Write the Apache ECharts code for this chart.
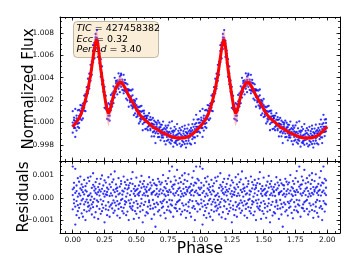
<!DOCTYPE html>
<html><head><meta charset="utf-8">
<script src="https://cdn.jsdelivr.net/npm/echarts@6/dist/echarts.min.js"></script>
<style>html,body{margin:0;padding:0;background:#fff}#c{width:357px;height:275px}</style>
</head><body><div id="c"></div>
<script>
// Model flux on a phase grid of 0.00 .. 0.99 (step 0.01), one cycle
const modelFlux = [
0.9996,0.99975,0.9999,1.00005,1.0002,1.0004,1.0006,1.0009,1.0012,1.0016,
1.0020,1.0025,1.0030,1.0036,1.0042,1.0050,1.0058,1.0066,1.0072,1.0074,
1.0068,1.0058,1.0048,1.0040,1.0032,1.0024,1.0017,1.0011,1.0008,1.0010,
1.0014,1.0019,1.0024,1.0028,1.0031,1.0033,1.0035,1.0036,1.0036,1.0035,
1.0033,1.0031,1.0029,1.0026,1.0024,1.0022,1.0020,1.0018,1.0016,1.0014,
1.0012,1.0010,1.0008,1.0007,1.0005,1.0004,1.0003,1.0002,1.0001,1.0000,
0.9999,0.9998,0.9997,0.9996,0.9995,0.99945,0.9994,0.9993,0.99925,0.9992,
0.9991,0.99905,0.9990,0.99895,0.9989,0.99885,0.9988,0.99875,0.9987,0.99868,
0.99865,0.99862,0.9986,0.9986,0.9986,0.9986,0.9986,0.9986,0.99862,0.99865,
0.9987,0.99875,0.9988,0.99888,0.99895,0.99905,0.99915,0.99928,0.9994,0.9995
];
// spread of the posterior model samples (units of 1e-4), above / below the model
const bandUp = [
1.5,1.5,1.5,1.5,1.5,1.5,1.5,1.5,1.5,1.5,
1.5,1.5,2,2,2.5,3,4,6,8,8,
6,4,3,2.5,2,2,3,3,3,3,
3,3,3,3,4,5,5,5,5,4,
4,3,3,2,2,1.5,1.5,1.5,1.5,1.5,
1.5,1.5,1.5,1.5,1.5,1.5,1.5,1.5,1.5,1.5,
1.5,1.5,1.5,1.5,1.5,1.5,1.5,1.5,1.5,1.5,
1.5,1.5,1.5,1.5,1.5,1.5,1.5,1.5,1.5,1.5,
1.5,1.5,1.5,1.5,1.5,1.5,1.5,1.5,1.5,1.5,
1.5,1.5,1.5,1.5,1.5,1.5,1.5,1.5,1.5,1.5
];
const bandDn = [
1.5,1.5,1.5,1.5,1.5,1.5,1.5,1.5,1.5,1.5,
1.5,1.5,2,2,2,2,3,3,4,4,
3,3,2,2,3,4,6,9,11,9,
6,4,3,3,3,3,4,4,4,3,
3,2,2,2,1.5,1.5,1.5,1.5,1.5,1.5,
1.5,1.5,1.5,1.5,1.5,1.5,1.5,1.5,1.5,1.5,
1.5,1.5,1.5,1.5,1.5,1.5,1.5,1.5,1.5,1.5,
1.5,1.5,1.5,1.5,1.5,1.5,1.5,1.5,1.5,1.5,
1.5,1.5,1.5,1.5,1.5,1.5,1.5,1.5,1.5,1.5,
1.5,1.5,1.5,1.5,1.5,1.5,1.5,1.5,1.5,1.5
];
// residuals (units of 1e-5), four observations at each grid phase
const residuals = [
[38,-52,140,12],[-25,67,-8,45],[130,-120,22,-40],[55,-15,-78,30],[-60,88,5,-33],
[18,-45,72,-90],[42,10,-28,95],[-70,35,-12,60],[25,-85,48,-5],[80,-30,15,-55],
[-18,52,-100,33],[65,-8,28,-62],[-40,90,-22,8],[12,-58,75,-35],[95,20,-48,-10],
[-30,44,5,-75],[58,-20,110,-42],[-88,32,-5,50],[22,-65,40,70],[-12,85,-38,15],
[48,-95,25,-18],[10,62,-50,35],[-72,28,85,-8],[40,-30,-60,100],[-15,55,18,-45],
[78,-110,30,5],[-35,15,68,-52],[26,-78,45,12],[-55,92,-20,38],[8,-40,60,-85],
[105,20,-32,48],[-48,70,10,-25],[35,-12,-68,82],[-22,118,25,-58],[60,-35,5,40],
[-80,45,30,-15],[15,-50,88,-30],[50,-25,-90,20],[-10,75,-42,62],[32,-60,14,-5],
[-45,28,95,-70],[70,-15,-30,42],[5,58,-78,-20],[-62,38,20,80],[44,-100,55,-12],
[-25,12,66,-40],[85,-48,-8,30],[-38,62,115,-55],[18,-22,40,-95],[52,30,-60,8],
[-15,-72,35,90],[40,15,-45,-28],[-90,55,22,10],[28,-38,72,-62],[-5,98,-25,45],
[62,-55,12,-110],[-32,20,50,75],[10,-80,38,-18],[48,25,-65,30],[-70,60,8,-40],
[35,-20,92,-12],[-50,42,-35,68],[22,-95,15,55],[80,-10,-48,25],[-28,65,30,-75],
[12,-42,58,-130],[55,18,-22,40],[-62,85,5,-30],[30,-55,72,15],[-18,38,-80,60],
[68,-25,20,-45],[-40,102,-15,32],[15,-68,48,-8],[42,8,-92,75],[-55,30,62,-20],
[25,-40,12,88],[-10,120,-58,35],[72,-30,25,-65],[-35,50,140,-12],[18,-85,40,58],
[60,10,-45,95],[-48,78,22,-30],[30,-20,125,-60],[-15,65,40,12],[88,-50,-10,45],
[5,30,-75,70],[-62,100,18,-25],[40,-35,62,8],[22,80,-55,110],[-30,15,48,-90],
[75,-60,28,35],[-20,45,105,-40],[50,-10,-68,22],[-85,62,30,12],[35,-45,90,-15],
[10,120,-38,55],[-50,25,68,-100],[65,-15,32,140],[-25,85,-62,20],[45,-30,12,78]
];
const xTicks = [0, 0.25, 0.5, 0.75, 1.0, 1.25, 1.5, 1.75, 2.0];
const fluxTicks = [0.998, 1.000, 1.002, 1.004, 1.006, 1.008];
const residTicks = [-0.001, 0.000, 0.001];
const cycles = [0, 1];
const infoLines = [['TIC', '427458382'], ['Ecc', '0.32'], ['Period', '3.40']];

const X_MIN = -0.1, X_MAX = 2.1;
const F_MIN = 0.99655, F_MAX = 1.00942;
const R_MIN = -0.00158, R_MAX = 0.00165;

// build series data
const fluxPts = [], residPts = [], modelLine = [], bandPts = [];
cycles.forEach(c => {
  modelFlux.forEach((m, i) => {
    const ph = +(c + i / 100).toFixed(2);
    residuals[i].forEach(r => {
      fluxPts.push([ph, m + r * 1e-5]);
      residPts.push([ph, r * 1e-5]);
    });
    modelLine.push([ph, m]);
    bandPts.push([ph, m - bandDn[i] * 1e-4, m + bandUp[i] * 1e-4]);
  });
});
modelLine.push([2.0, modelFlux[0]]);
bandPts.push([2.0, modelFlux[0] - bandDn[0] * 1e-4, modelFlux[0] + bandUp[0] * 1e-4]);

function minorVals(lo, hi, step) {
  const out = [];
  const k0 = Math.ceil(lo / step - 1e-9), k1 = Math.floor(hi / step + 1e-9);
  for (let k = k0; k <= k1; k++) out.push(+(k * step).toFixed(6));
  return out;
}
const xMinor = minorVals(X_MIN, X_MAX, 0.0625);
const fMinor = minorVals(F_MIN, F_MAX, 0.0005);
const rMinor = minorVals(R_MIN, R_MAX, 0.0002);

const FONT = 'DejaVu Sans';
const lineOn = { show: true, onZero: false, lineStyle: { color: '#000', width: 1 } };
const lineOff = { show: false, onZero: false };
function xAx(grid, pos, ticks, len, showLine, labels) {
  return {
    type: 'value', gridIndex: grid, position: pos, min: X_MIN, max: X_MAX,
    axisLine: showLine ? lineOn : lineOff,
    axisTick: { show: true, inside: true, length: len, customValues: ticks, lineStyle: { color: '#000', width: 0.8 } },
    axisLabel: labels ? { show: true, customValues: ticks, formatter: v => v.toFixed(2), fontSize: 7.5, fontFamily: FONT, color: '#111', margin: 3 } : { show: false },
    splitLine: { show: false }
  };
}
function yAx(grid, pos, min, max, ticks, len, showLine, fmt) {
  return {
    type: 'value', gridIndex: grid, position: pos, min: min, max: max,
    axisLine: showLine ? lineOn : lineOff,
    axisTick: { show: true, inside: true, length: len, customValues: ticks, lineStyle: { color: '#000', width: 0.8 } },
    axisLabel: fmt ? { show: true, customValues: ticks, formatter: fmt, fontSize: 7.5, fontFamily: FONT, color: '#111', margin: 6 } : { show: false },
    splitLine: { show: false }
  };
}
const xAxes = [
  xAx(0, 'bottom', xTicks, 3.5, true, false),
  xAx(0, 'top', xTicks, 3.5, true, false),
  xAx(0, 'bottom', xMinor, 2, false, false),
  xAx(0, 'top', xMinor, 2, false, false),
  xAx(1, 'bottom', xTicks, 3.5, true, true),
  xAx(1, 'top', xTicks, 3.5, true, false),
  xAx(1, 'bottom', xMinor, 2, false, false),
  xAx(1, 'top', xMinor, 2, false, false)
];
Object.assign(xAxes[4], { name: 'Phase', nameLocation: 'middle', nameGap: 8, nameMoveOverlap: false,
  nameTextStyle: { fontSize: 15.5, fontFamily: FONT, color: '#000' } });

const fFmt = v => v.toFixed(3);
const rFmt = v => (v < -1e-9 ? '\u2212' + Math.abs(v).toFixed(3) : Math.abs(v).toFixed(3));
const yAxes = [
  yAx(0, 'left', F_MIN, F_MAX, fluxTicks, 3.5, true, fFmt),
  yAx(0, 'right', F_MIN, F_MAX, fluxTicks, 3.5, true, null),
  yAx(0, 'left', F_MIN, F_MAX, fMinor, 2, false, null),
  yAx(0, 'right', F_MIN, F_MAX, fMinor, 2, false, null),
  yAx(1, 'left', R_MIN, R_MAX, residTicks, 3.5, true, rFmt),
  yAx(1, 'right', R_MIN, R_MAX, residTicks, 3.5, true, null),
  yAx(1, 'left', R_MIN, R_MAX, rMinor, 2, false, null),
  yAx(1, 'right', R_MIN, R_MAX, rMinor, 2, false, null)
];
Object.assign(yAxes[0], { name: 'Normalized Flux', nameLocation: 'middle', nameGap: 23, nameMoveOverlap: false,
  nameTextStyle: { fontSize: 15, fontFamily: FONT, color: '#000' } });
Object.assign(yAxes[4], { name: 'Residuals', nameLocation: 'middle', nameGap: 28, nameMoveOverlap: false,
  nameTextStyle: { fontSize: 15, fontFamily: FONT, color: '#000' } });

const chart = echarts.init(document.getElementById('c'), null, { renderer: 'canvas' });
chart.setOption({
  animation: false,
  backgroundColor: '#fff',
  grid: [
    { left: 60, top: 17, width: 280, height: 144 },
    { left: 60, top: 161, width: 280, height: 72 }
  ],
  xAxis: xAxes,
  yAxis: yAxes,
  series: [
    { type: 'scatter', xAxisIndex: 0, yAxisIndex: 0, data: fluxPts, symbol: 'circle', symbolSize: 2.3,
      itemStyle: { color: '#0000ff' }, z: 2, silent: true },
    { type: 'custom', xAxisIndex: 0, yAxisIndex: 0, data: bandPts, z: 3, silent: true,
      encode: { x: 0, y: [1, 2] },
      renderItem: function (params, api) {
        const i = params.dataIndex;
        if (i >= bandPts.length - 1) return null;
        const a = bandPts[i], b = bandPts[i + 1];
        const pts = [api.coord([a[0], a[1]]), api.coord([b[0], b[1]]), api.coord([b[0], b[2]]), api.coord([a[0], a[2]])];
        return { type: 'polygon', shape: { points: pts },
          style: { fill: 'rgba(255,120,120,0.35)', stroke: 'rgba(255,120,120,0.35)', lineWidth: 0.3 } };
      } },
    { type: 'line', xAxisIndex: 0, yAxisIndex: 0, data: modelLine, symbol: 'none',
      lineStyle: { color: '#ff0000', width: 3 }, z: 4, silent: true },
    { type: 'scatter', xAxisIndex: 4, yAxisIndex: 4, data: residPts, symbol: 'circle', symbolSize: 2.3,
      itemStyle: { color: '#0000ff' }, z: 2, silent: true }
  ],
  graphic: [{
    type: 'group', left: 73, top: 21, z: 100,
    children: [
      { type: 'rect', shape: { x: 0, y: 0, width: 85, height: 36, r: 4 },
        style: { fill: 'rgba(245,222,179,0.5)', stroke: 'rgba(150,140,120,0.6)', lineWidth: 1 } },
      { type: 'text', x: 3, y: 2,
        style: {
          text: infoLines.map(l => '{i|' + l[0] + '} = ' + l[1]).join('\n'),
          fontSize: 9.5, fontFamily: FONT, fill: '#000', lineHeight: 10.5,
          rich: { i: { fontStyle: 'italic', fontSize: 9.5, fontFamily: FONT, lineHeight: 10.5 } }
        } }
    ]
  }]
});
</script></body></html>
